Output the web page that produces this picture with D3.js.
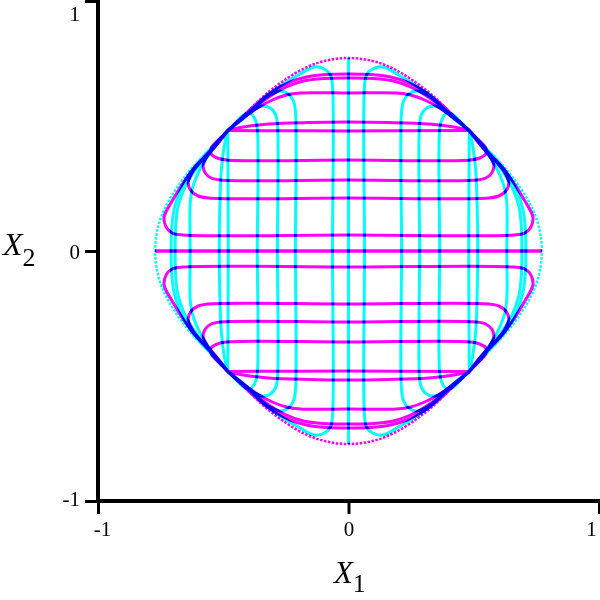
<!DOCTYPE html>
<html>
<head>
<meta charset="utf-8">
<style>
  body { margin: 0; background: #fff; }
  svg { display: block; background: #fff; }
  .curve { fill: none; stroke-width: 3; mix-blend-mode: multiply; stroke-linejoin: round; }
  .outer { stroke-width: 2.5; stroke-dasharray: 2.5 1.5; }
  .axis path, .axis line { stroke: #000; }
  .axis path { stroke-width: 4; }
  .axis line { stroke-width: 3; }
  .axis text { font-family: "Liberation Serif", serif; font-size: 21px; fill: #000; }
  .title { font-family: "Liberation Serif", serif; fill: #000; }
</style>
<title>grid image</title>
</head>
<body>
<script src="https://cdn.jsdelivr.net/npm/d3@7"></script>
<script>

// quarter profiles (x >= 0, y >= 0) of the grid curves.
// the picture is symmetric: the other quarters are mirrors, and the magenta
// family is the cyan family with x and y swapped
var c00 = [[0, 0], [0, 0.772]];
var c06 = [[0.064, 0], [0.064, 0.66], [0.072, 0.704], [0.096, 0.728], [0.136, 0.736], [0.2, 0.704], [0.272, 0.66], [0.328, 0.62], [0.376, 0.576], [0.428, 0.528], [0.482, 0.482]];
var c21 = [[0.212, 0], [0.212, 0.56], [0.22, 0.6], [0.24, 0.628], [0.272, 0.64], [0.32, 0.62], [0.376, 0.572], [0.428, 0.524], [0.482, 0.482]];
var c28 = [[0.284, 0], [0.284, 0.512], [0.292, 0.548], [0.312, 0.572], [0.344, 0.58], [0.384, 0.56], [0.432, 0.52], [0.482, 0.482]];
var c36 = [[0.364, 0], [0.364, 0.488], [0.372, 0.524], [0.388, 0.548], [0.412, 0.548], [0.448, 0.516], [0.482, 0.482]];
var c48 = [[0.48, 0], [0.482, 0.482]];
var c52 = [[0.516, 0], [0.514, 0.16], [0.508, 0.32], [0.496, 0.42], [0.482, 0.482]];
var c63 = [[0.632, 0], [0.632, 0.192], [0.624, 0.248], [0.604, 0.304], [0.572, 0.364], [0.528, 0.424], [0.482, 0.482]];
var c69 = [[0.692, 0], [0.69, 0.1], [0.68, 0.18], [0.656, 0.248], [0.62, 0.312], [0.576, 0.372], [0.528, 0.428], [0.482, 0.482]];
var c71 = [[0.708, 0], [0.706, 0.088], [0.696, 0.168], [0.676, 0.232], [0.64, 0.3], [0.592, 0.364], [0.536, 0.424], [0.482, 0.482]];
var c77 = [[0.772, 0], [0.766, 0.068], [0.748, 0.136], [0.716, 0.204], [0.672, 0.272], [0.632, 0.324], [0.584, 0.376], [0.532, 0.428], [0.482, 0.482]];

var profiles = [c00, c06, c21, c28, c36, c48, c52, c63, c69, c71];
var outerProfile = c77;

var tickValues = [-1, 0, 1];
var xTitle = "X", xSub = "1";
var yTitle = "X", ySub = "2";

var x = d3.scaleLinear().domain([-1, 1]).range([98, 599]);
var y = d3.scaleLinear().domain([-1, 1]).range([501, 1]);

var svg = d3.select("body").append("svg")
  .attr("width", 600)
  .attr("height", 600);

// whole curve from a quarter profile: bottom half mirrored, then top half
function wholeCurve(q) {
  var bottom = q.slice().reverse().map(function(p) { return [p[0], -p[1]]; });
  return bottom.concat(q.slice(1));
}
function flipX(c) { return c.map(function(p) { return [-p[0], p[1]]; }); }
function swapXY(c) { return c.map(function(p) { return [p[1], p[0]]; }); }

var line = d3.line()
  .x(function(d) { return x(d[0]); })
  .y(function(d) { return y(d[1]); })
  .curve(d3.curveCatmullRom.alpha(0.5));

var cyan = [], magenta = [];
profiles.concat([outerProfile]).forEach(function(q) {
  var c = wholeCurve(q);
  var outer = (q === outerProfile);
  cyan.push({ pts: c, outer: outer });
  cyan.push({ pts: flipX(c), outer: outer });
  magenta.push({ pts: swapXY(c), outer: outer });
  magenta.push({ pts: swapXY(flipX(c)), outer: outer });
});

var plot = svg.append("g").style("isolation", "isolate");

plot.selectAll(".cy")
  .data(cyan)
  .enter().append("path")
    .attr("class", function(d) { return d.outer ? "curve outer" : "curve"; })
    .attr("stroke", "#00ffff")
    .attr("d", function(d) { return line(d.pts); });

plot.selectAll(".mg")
  .data(magenta)
  .enter().append("path")
    .attr("class", function(d) { return d.outer ? "curve outer" : "curve"; })
    .attr("stroke", "#ff00ff")
    .attr("d", function(d) { return line(d.pts); });

// axes
var yAxis = d3.axisLeft(y).tickValues(tickValues).tickSize(13).tickSizeOuter(0)
  .tickFormat(d3.format("d"));
var gy = svg.append("g")
  .attr("class", "axis")
  .attr("transform", "translate(" + x(-1) + ",0)")
  .call(yAxis);
gy.selectAll("text")
  .attr("x", -18)
  .attr("dy", function(d) { return d == 1 ? "0.95em" : (d == -1 ? "0.2em" : "0.35em"); })
  .text(function(d) { return d < 0 ? "-" + Math.abs(d) : d; });

var xAxis = d3.axisBottom(x).tickValues(tickValues).tickSize(13).tickSizeOuter(0)
  .tickFormat(d3.format("d"));
var gx = svg.append("g")
  .attr("class", "axis")
  .attr("transform", "translate(0," + y(-1) + ")")
  .call(xAxis);
gx.selectAll("text")
  .attr("y", 20)
  .attr("dx", function(d) { return d == -1 ? 4 : (d == 1 ? -8 : 0); })
  .text(function(d) { return d < 0 ? "-" + Math.abs(d) : d; });
gy.select(".domain").attr("d", "M0,-1V" + (y(-1) - 1));
gx.select(".domain").attr("d", "M" + (x(-1) - 2) + ",0H600");

// axis titles
var tx = svg.append("text").attr("class", "title")
  .attr("x", 334).attr("y", 583);
tx.append("tspan").style("font-style", "italic").style("font-size", "31px").text(xTitle);
tx.append("tspan").attr("dy", 9).style("font-size", "25px").text(xSub);

var ty = svg.append("text").attr("class", "title")
  .attr("x", 3).attr("y", 255);
ty.append("tspan").style("font-style", "italic").style("font-size", "32px").text(yTitle);
ty.append("tspan").attr("dy", 11).style("font-size", "26px").text(ySub);

</script>
</body>
</html>
